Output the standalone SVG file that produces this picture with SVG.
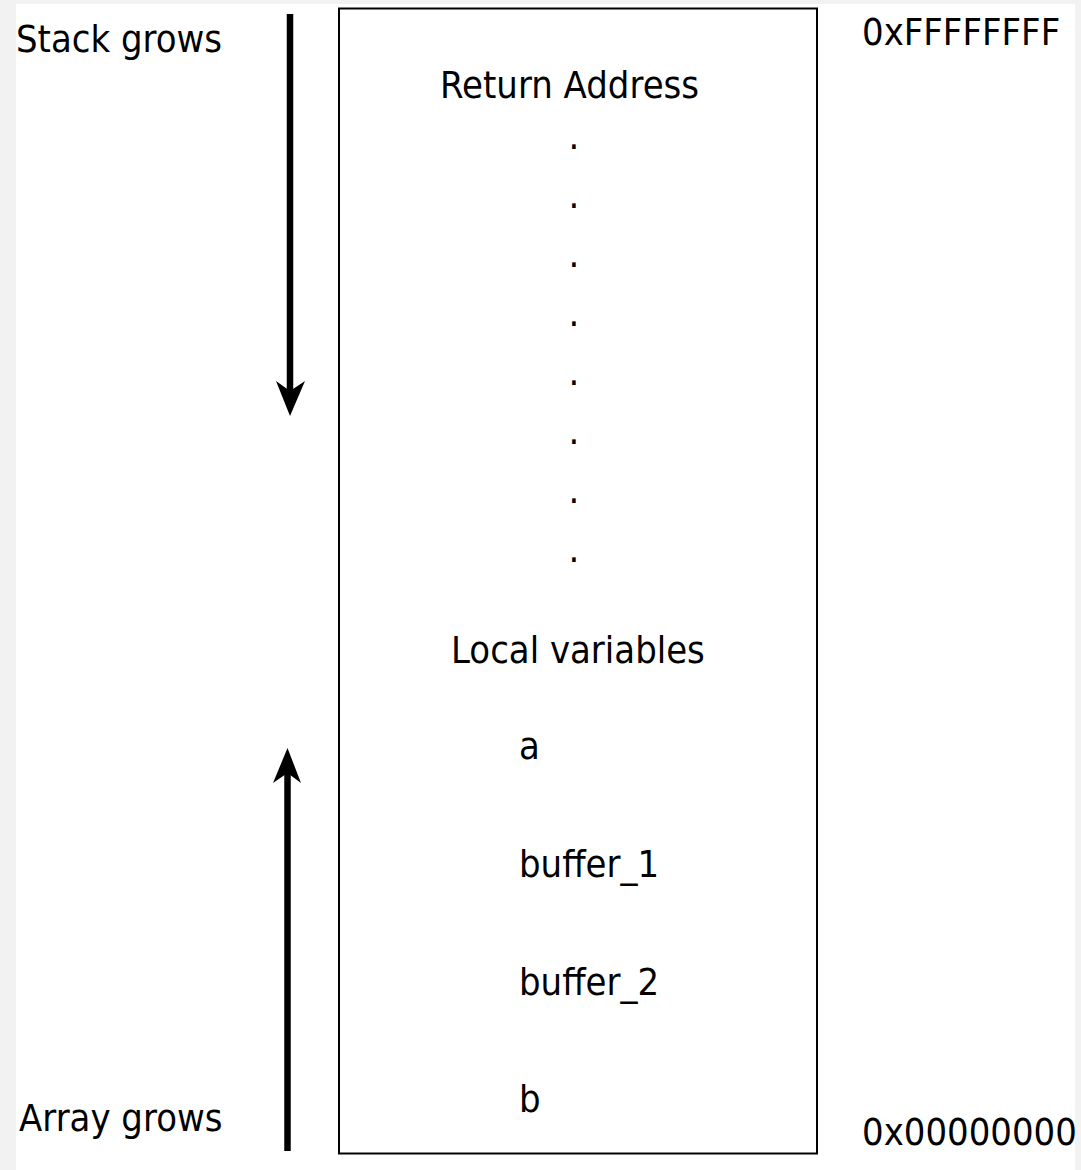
<svg xmlns="http://www.w3.org/2000/svg" width="1081" height="1170" viewBox="0 0 1081 1170">
<style>
text{font-family:"DejaVu Sans","Liberation Sans",sans-serif;font-size:38px;fill:#000}
.dot{text-anchor:middle}
.shaft{stroke:#000;stroke-width:6.5;fill:none}
.head{fill:#000;stroke:none}
</style>
<rect x="0" y="0" width="1081" height="1170" fill="#f2f2f2"/>
<rect x="16" y="4" width="1059" height="1166" fill="#ffffff"/>
<g id="stack-frame">
<rect x="339" y="8.5" width="478" height="1145" fill="none" stroke="#000" stroke-width="2"/>
<text transform="translate(440,98) scale(0.895,1)">Return Address</text>
<text class="dot" transform="translate(574,149) scale(0.895,1)">.</text>
<text class="dot" transform="translate(574,208) scale(0.895,1)">.</text>
<text class="dot" transform="translate(574,267) scale(0.895,1)">.</text>
<text class="dot" transform="translate(574,326) scale(0.895,1)">.</text>
<text class="dot" transform="translate(574,385) scale(0.895,1)">.</text>
<text class="dot" transform="translate(574,444) scale(0.895,1)">.</text>
<text class="dot" transform="translate(574,503) scale(0.895,1)">.</text>
<text class="dot" transform="translate(574,562) scale(0.895,1)">.</text>
<text transform="translate(451,663) scale(0.895,1)">Local variables</text>
<text transform="translate(519,759) scale(0.895,1)">a</text>
<text transform="translate(519,877) scale(0.895,1)">buffer_1</text>
<text transform="translate(519,995) scale(0.895,1)">buffer_2</text>
<text transform="translate(519,1112) scale(0.895,1)">b</text>
</g>
<g id="label-stack-grows"><text transform="translate(16,52) scale(0.895,1)">Stack grows</text></g>
<g id="label-array-grows"><text transform="translate(19,1131) scale(0.895,1)">Array grows</text></g>
<g id="label-high-addr"><text transform="translate(862,45) scale(0.895,1)">0xFFFFFFFF</text></g>
<g id="label-low-addr"><text transform="translate(862,1145) scale(0.895,1)">0x00000000</text></g>
<g id="connectors">
<line class="shaft" x1="290" y1="14" x2="290" y2="392"/>
<path class="head" d="M290,416 L276,381 L290,391 L305,381 Z"/>
<line class="shaft" x1="287.5" y1="1151" x2="287.5" y2="772"/>
<path class="head" d="M287.5,748 L273,783 L287.5,773 L301,783 Z"/>
</g>
</svg>
